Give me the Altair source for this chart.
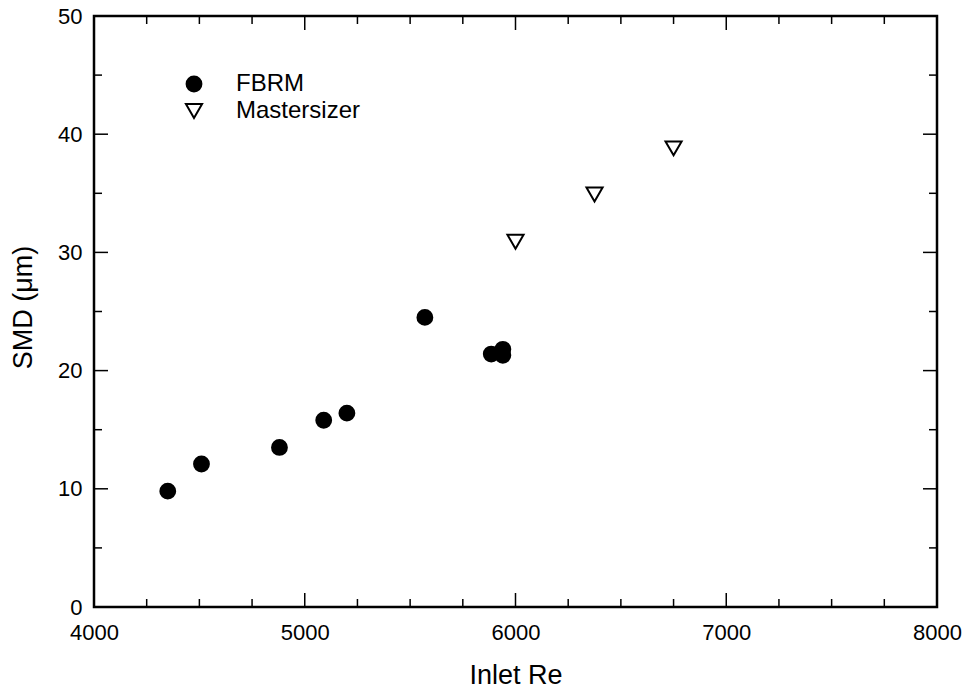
import altair as alt
import pandas as pd

# Data
fbrm_re = [4350, 4510, 4880, 5090, 5200, 5570, 5885, 5940, 5940]
fbrm_smd = [9.8, 12.1, 13.5, 15.8, 16.4, 24.5, 21.4, 21.8, 21.3]
ms_re = [6000, 6375, 6750]
ms_smd = [30.9, 34.9, 38.8]

series = ["FBRM", "Mastersizer"]
x_major = [4000, 5000, 6000, 7000, 8000]
x_minor = [4250, 4500, 4750, 5250, 5500, 5750, 6250, 6500, 6750, 7250, 7500, 7750]
y_major = [0, 10, 20, 30, 40, 50]
y_minor = [5, 15, 25, 35, 45]

W, H = 843, 591
FONT = "Liberation Sans"

df = pd.DataFrame({
    "re": fbrm_re + ms_re,
    "smd": fbrm_smd + ms_smd,
    "series": [series[0]] * len(fbrm_re) + [series[1]] * len(ms_re),
})

xscale = alt.Scale(domain=[4000, 8000], nice=False, zero=False)
yscale = alt.Scale(domain=[0, 50], nice=False, zero=False)

leg = alt.Legend(title=None, orient="none", legendX=88, legendY=56,
                 labelFontSize=24, labelFont=FONT, labelColor="black",
                 symbolStrokeWidth=2, rowPadding=3, labelOffset=30)

points = alt.Chart(df).mark_point(filled=False, opacity=1, strokeWidth=2).encode(
    x=alt.X("re:Q", scale=xscale,
            axis=alt.Axis(values=x_major, format="d", grid=False, ticks=False, domain=False,
                          labelFlush=False,
                          labelFontSize=22, labelPadding=15, labelColor="black", labelFont=FONT,
                          title="Inlet Re", titleFontSize=27, titleFontWeight="normal",
                          titleFont=FONT, titlePadding=19, titleColor="black")),
    y=alt.Y("smd:Q", scale=yscale,
            axis=alt.Axis(values=y_major, grid=False, ticks=False, domain=False,
                          labelFlush=False,
                          labelFontSize=22, labelPadding=12, labelColor="black", labelFont=FONT,
                          title="SMD (μm)", titleFontSize=27, titleFontWeight="normal",
                          titleFont=FONT, titlePadding=20, titleColor="black", titleY=291)),
    shape=alt.Shape("series:N", scale=alt.Scale(domain=series, range=["circle", "triangle-down"]),
                    legend=leg),
    fill=alt.Fill("series:N", scale=alt.Scale(domain=series, range=["black", "white"]), legend=leg),
    size=alt.Size("series:N", scale=alt.Scale(domain=series, range=[220, 260]), legend=leg),
    stroke=alt.value("black"),
)

xmaj = pd.DataFrame({"v": x_major})
xmin = pd.DataFrame({"v": x_minor})
ymaj = pd.DataFrame({"v": y_major})
ymin = pd.DataFrame({"v": y_minor})

def xticks(data, length):
    base = alt.Chart(data).mark_rule(color="black", strokeWidth=1.5)
    bottom = base.encode(x=alt.X("v:Q", scale=xscale), y=alt.value(H), y2=alt.value(H - length))
    top = base.encode(x=alt.X("v:Q", scale=xscale), y=alt.value(0), y2=alt.value(length))
    return [bottom, top]

def yticks(data, length):
    base = alt.Chart(data).mark_rule(color="black", strokeWidth=1.5)
    left = base.encode(y=alt.Y("v:Q", scale=yscale), x=alt.value(0), x2=alt.value(length))
    right = base.encode(y=alt.Y("v:Q", scale=yscale), x=alt.value(W), x2=alt.value(W - length))
    return [left, right]

layers = xticks(xmaj, 14) + xticks(xmin, 8) + yticks(ymaj, 14) + yticks(ymin, 8) + [points]

chart = alt.layer(*layers).properties(
    width=W, height=H,
    autosize=alt.AutoSizeParams(type="none"),
    padding={"left": 94, "top": 16, "right": 27, "bottom": 85},
    background="white",
).configure_view(stroke="black", strokeWidth=2.5).configure_axis(labelFont=FONT, titleFont=FONT)

chart.save("out.html", embed_options={"renderer": "svg", "actions": False})
